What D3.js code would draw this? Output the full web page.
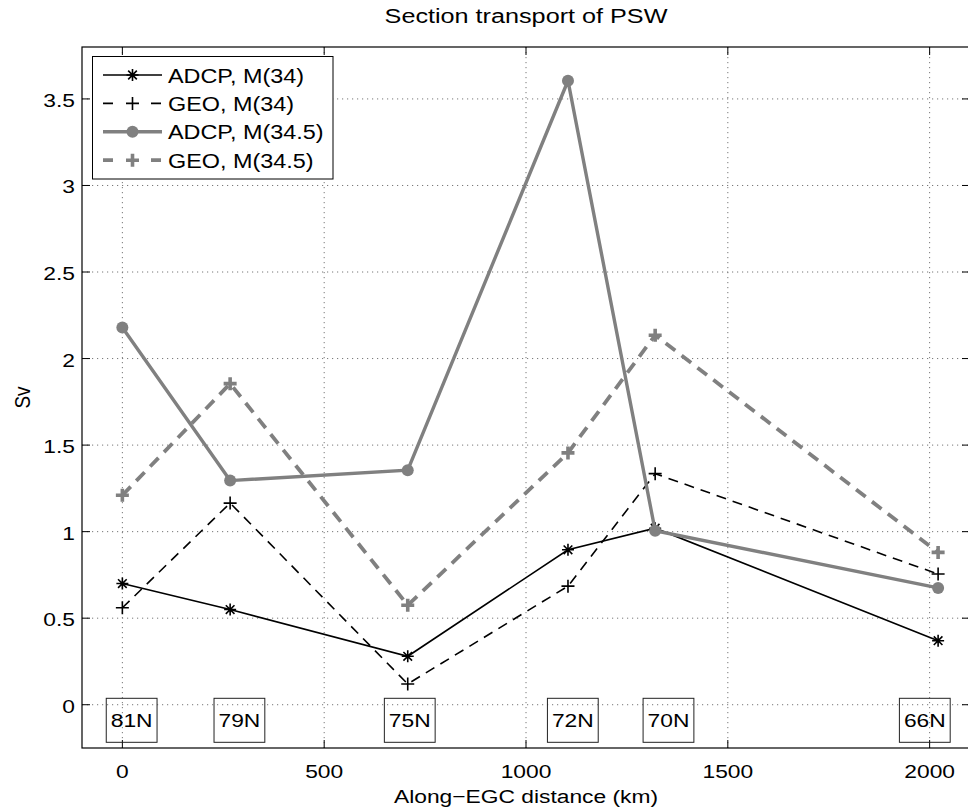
<!DOCTYPE html>
<html><head><meta charset="utf-8">
<script src="https://cdn.jsdelivr.net/npm/d3@7"></script>
<style>
html,body{margin:0;padding:0;background:#fff;}
svg text{font-family:"Liberation Sans",Arial,Helvetica,sans-serif;fill:#000;}
</style></head>
<body>
<svg id="chart" width="968" height="812"></svg>
<script>
// ---- data ----
const distanceKm = [0, 267, 707, 1104, 1320, 2021];
const adcp34  = [0.70, 0.55, 0.28, 0.895, 1.02, 0.37];
const geo34   = [0.56, 1.165, 0.12, 0.685, 1.335, 0.755];
const adcp345 = [2.18, 1.295, 1.355, 3.605, 1.005, 0.675];
const geo345  = [1.21, 1.855, 0.575, 1.455, 2.135, 0.88];
const seriesNames = ["ADCP, M(34)", "GEO, M(34)", "ADCP, M(34.5)", "GEO, M(34.5)"];
const stationNames = ["81N", "79N", "75N", "72N", "70N", "66N"];
const stationX = [23, 290, 712, 1116, 1353, 1988];
const xTicks = [0, 500, 1000, 1500, 2000];
const yTicks = [0, 0.5, 1, 1.5, 2, 2.5, 3, 3.5];
const titleText = "Section transport of PSW";
const xLabelText = "Along\u2212EGC distance (km)";
const yLabelText = "Sv";

// ---- layout ----
const svg = d3.select("#chart");
const L = 82, R = 970, T = 47, B = 748;
const x = d3.scaleLinear().domain([-100, 2100]).range([L, R]);
const y = d3.scaleLinear().domain([-0.25, 3.8]).range([B, T]);
const SX = 1.2; // horizontal text stretch of reference
const GRAY = "#808080";

function txt(g, px, py, s, size, anchor, rot) {
  let tr = `translate(${px},${py}) scale(${SX},1)` + (rot ? ` rotate(${rot})` : "");
  return g.append("text").attr("transform", tr).attr("text-anchor", anchor || "start")
    .style("font-size", size + "px").text(s);
}

// grid
const grid = svg.append("g");
grid.selectAll("line.gx").data(xTicks).join("line")
  .attr("x1", d => x(d)).attr("x2", d => x(d)).attr("y1", T).attr("y2", B)
  .attr("stroke", "#777").attr("stroke-width", 1).attr("stroke-dasharray", "1.2,3.8");
grid.selectAll("line.gy").data(yTicks).join("line")
  .attr("x1", L).attr("x2", R).attr("y1", d => y(d)).attr("y2", d => y(d))
  .attr("stroke", "#777").attr("stroke-width", 1).attr("stroke-dasharray", "1.2,3.8");

// axes box
const ax = svg.append("g");
ax.append("rect").attr("x", L).attr("y", T).attr("width", R - L).attr("height", B - T)
  .attr("fill", "none").attr("stroke", "#000").attr("stroke-width", 1.2);
const TL = 8;
xTicks.forEach(d => {
  ax.append("line").attr("x1", x(d)).attr("x2", x(d)).attr("y1", B).attr("y2", B - TL).attr("stroke", "#000");
  ax.append("line").attr("x1", x(d)).attr("x2", x(d)).attr("y1", T).attr("y2", T + TL).attr("stroke", "#000");
  txt(ax, x(d), B + 30, String(d), 19, "middle");
});
yTicks.forEach(d => {
  ax.append("line").attr("x1", L).attr("x2", L + TL).attr("y1", y(d)).attr("y2", y(d)).attr("stroke", "#000");
  ax.append("line").attr("x1", R).attr("x2", R - TL).attr("y1", y(d)).attr("y2", y(d)).attr("stroke", "#000");
  txt(ax, 75, y(d) + 8, String(d), 19, "end");
});
txt(svg, (L + R) / 2, 23, titleText, 21, "middle");
txt(svg, (L + R) / 2, 803, xLabelText, 19, "middle");
txt(svg, 30, (T + B) / 2, yLabelText, 19, "middle", -90);

// station label boxes
const st = svg.append("g");
stationNames.forEach((n, i) => {
  const t = txt(st, x(stationX[i]), y(-0.09) + 7, n, 19, "middle");
  const bb = t.node().getBBox();
  const w = bb.width * SX + 9;
  st.append("rect").attr("x", x(stationX[i]) - w / 2).attr("y", y(-0.09) - 22)
    .attr("width", w).attr("height", 44).attr("fill", "none")
    .attr("stroke", "#222").attr("stroke-width", 1);
});

// markers
function star(s) { const a = s * 0.72; return `M${-s},0H${s}M0,${-s}V${s}M${-a},${-a}L${a},${a}M${-a},${a}L${a},${-a}`; }
function plus(s) { return `M${-s},0H${s}M0,${-s}V${s}`; }

const series = [
  { v: adcp34, color: "#000", w: 1.6, dash: null, legDash: null, marker: "star" },
  { v: geo34, color: "#000", w: 1.6, dash: "10,7", legDash: "10,38", marker: "plus" },
  { v: adcp345, color: GRAY, w: 3.4, dash: null, legDash: null, marker: "circle" },
  { v: geo345, color: GRAY, w: 3.8, dash: "12,8", legDash: "10,38", marker: "gplus" }
];
const line = d3.line().x(d => x(d[0])).y(d => y(d[1]));
function drawMarker(g, type, px, py, color) {
  if (type === "star") g.append("path").attr("d", star(6)).attr("transform", `translate(${px},${py})`).attr("stroke", color).attr("stroke-width", 1.6).attr("fill", "none");
  else if (type === "plus") g.append("path").attr("d", plus(6.5)).attr("transform", `translate(${px},${py})`).attr("stroke", color).attr("stroke-width", 1.6).attr("fill", "none");
  else if (type === "gplus") g.append("path").attr("d", plus(6.5)).attr("transform", `translate(${px},${py})`).attr("stroke", color).attr("stroke-width", 3.6).attr("fill", "none");
  else g.append("circle").attr("cx", px).attr("cy", py).attr("r", 6).attr("fill", color);
}
const plotG = svg.append("g");
series.forEach(s => {
  const pts = distanceKm.map((d, i) => [d, s.v[i]]);
  plotG.append("path").attr("d", line(pts)).attr("fill", "none").attr("stroke", s.color)
    .attr("stroke-width", s.w).attr("stroke-dasharray", s.dash).attr("stroke-linejoin", "miter");
  pts.forEach(p => drawMarker(plotG, s.marker, x(p[0]), y(p[1]), s.color));
});

// legend
const lg = svg.append("g");
lg.append("rect").attr("x", 92.5).attr("y", 56.5).attr("width", 240.5).attr("height", 122.5)
  .attr("fill", "#fff").attr("stroke", "#000").attr("stroke-width", 1);
series.forEach((s, i) => {
  const ly = 75 + i * 28.4;
  lg.append("line").attr("x1", 103).attr("x2", 162).attr("y1", ly).attr("y2", ly)
    .attr("stroke", s.color).attr("stroke-width", s.w).attr("stroke-dasharray", s.legDash);
  drawMarker(lg, s.marker, 132.5, ly, s.color);
  txt(lg, 168, ly + 7.5, seriesNames[i], 19.5, "start");
});
</script>
</body></html>
